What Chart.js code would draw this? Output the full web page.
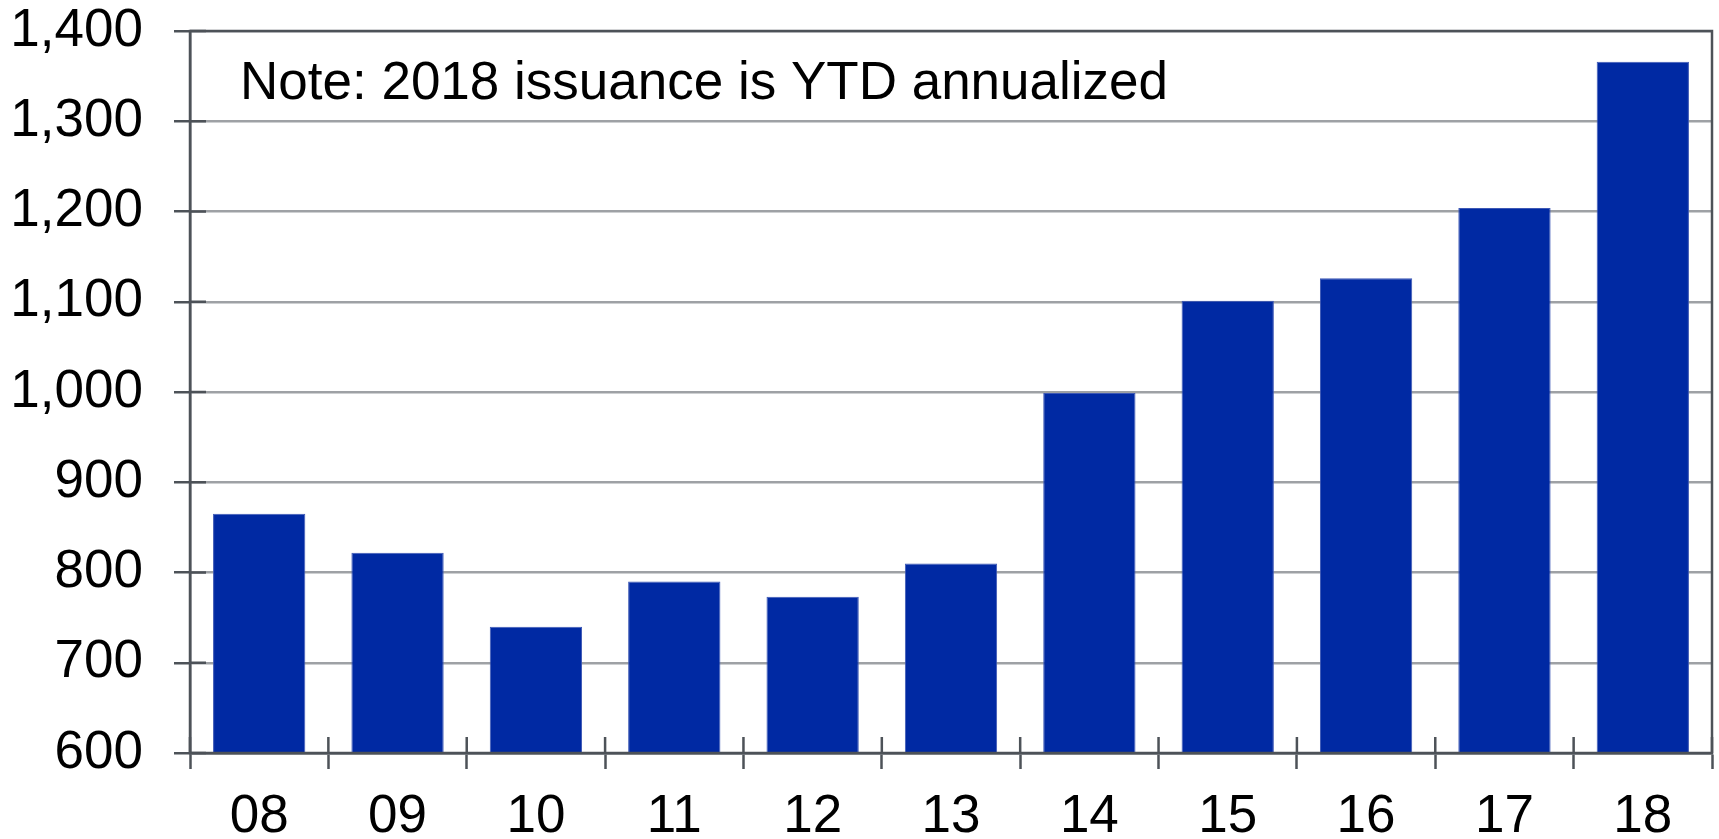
<!DOCTYPE html>
<html>
<head>
<meta charset="utf-8">
<script src="https://cdn.jsdelivr.net/npm/chart.js@4/dist/chart.umd.min.js"></script>
<style>
  html, body { margin: 0; padding: 0; background: #fff; }
  #wrap { width: 1719px; height: 839px; }
</style>
</head>
<body>
<div id="wrap"><canvas id="bar"></canvas></div>
<script>
'use strict';

// 연도 라벨 (x축)
const years = ['08', '09', '10', '11', '12', '13', '14', '15', '16', '17', '18'];
// 발행량 값
const issuance = [865, 822, 740, 790, 773, 810, 999, 1101, 1126, 1204, 1366];
// y축 범위
const yMin = 600;
const yMax = 1400;
const yStep = 100;
const noteText = 'Note: 2018 issuance is YTD annualized';

const FONT = '"Liberation Sans", Arial, sans-serif';
const FSIZE = 53;
const AXIS = '#4d5258';
const GRID = '#9ea1a5';

// 틱 안쪽 부분, 테두리, 노트 그리기
const framePlugin = {
    id: 'frame',
    afterDraw(chart) {
        const ctx = chart.ctx;
        const a = chart.chartArea;
        const xs = chart.scales.x;
        const ys = chart.scales.y;
        ctx.save();
        ctx.strokeStyle = AXIS;
        ctx.lineWidth = 2.5;
        ctx.beginPath();
        ys.ticks.forEach(t => {
            const y = ys.getPixelForValue(t.value);
            ctx.moveTo(a.left, y);
            ctx.lineTo(a.left + 16, y);
        });
        for (let i = 0; i <= years.length; i++) {
            const x = xs.getPixelForValue(i - 0.5);
            ctx.moveTo(x, a.bottom);
            ctx.lineTo(x, a.bottom - 16);
        }
        ctx.stroke();
        ctx.strokeRect(a.left, a.top, a.right - a.left, a.bottom - a.top);

        ctx.fillStyle = '#000';
        ctx.font = FSIZE + 'px ' + FONT;
        ctx.textBaseline = 'alphabetic';
        ctx.fillText(noteText, a.left + 50, a.top + 68);
        ctx.restore();
    }
};

const data = {
    labels: years,
    datasets: [{
        data: issuance,
        backgroundColor: '#0029a3',
        borderColor: '#3d58b5',
        borderWidth: 1,
        barPercentage: 0.667,
        categoryPercentage: 1
    }]
};

const config = {
    type: 'bar',
    data,
    options: {
        responsive: true,
        maintainAspectRatio: false,
        animation: false,
        layout: { padding: { top: 31, right: 7, left: 0, bottom: 0 } },
        plugins: {
            legend: { display: false },
            tooltip: { enabled: false }
        },
        scales: {
            x: {
                grid: {
                    offset: true,
                    drawOnChartArea: false,
                    drawTicks: true,
                    tickLength: 16,
                    tickColor: AXIS,
                    tickWidth: 2.5
                },
                border: { color: AXIS, width: 2.5 },
                ticks: {
                    color: '#000',
                    padding: 17,
                    font: { family: FONT, size: FSIZE }
                },
                afterFit(scale) {
                    scale.height = 86;
                    scale.paddingLeft = 0;
                    scale.paddingRight = 0;
                }
            },
            y: {
                min: yMin,
                max: yMax,
                grid: {
                    color: GRID,
                    lineWidth: 2.5,
                    tickLength: 16,
                    tickColor: AXIS,
                    tickWidth: 2.5
                },
                border: { color: AXIS, width: 2.5 },
                ticks: {
                    stepSize: yStep,
                    color: '#000',
                    padding: 31,
                    font: { family: FONT, size: FSIZE },
                    callback: v => v.toLocaleString('en-US')
                },
                afterFit(scale) {
                    scale.width = 190;
                    // 라벨 여백 때문에 위쪽이 밀리지 않게
                    scale.paddingTop = 0;
                    scale.paddingBottom = 0;
                }
            }
        }
    },
    plugins: [framePlugin]
};

const barChart = new Chart(document.getElementById('bar'), config);
</script>
</body>
</html>
